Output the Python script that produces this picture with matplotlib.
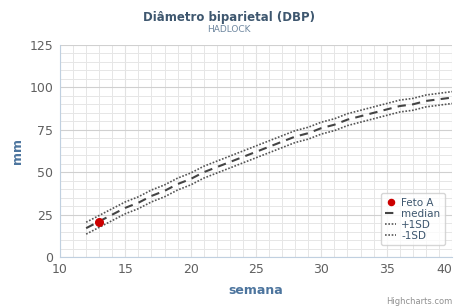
import numpy as np
import matplotlib.pyplot as plt
from matplotlib.ticker import MultipleLocator

weeks = [12, 13, 14, 15, 16, 17, 18, 19, 20, 21, 22, 23, 24, 25, 26,
         27, 28, 29, 30, 31, 32, 33, 34, 35, 36, 37, 38, 39, 40]
median = [17, 21, 25, 29, 32, 36, 39, 43, 46, 50, 53, 56, 59, 62, 65,
          68, 71, 73, 76, 78, 81, 83, 85, 87, 89, 90, 92, 93, 94]
plus_sd = [20.5, 24.5, 28.5, 32.5, 35.5, 39.5, 42.5, 46.5, 49.5, 53.5, 56.5, 59.5, 62.5, 65.5, 68.5,
           71.5, 74.5, 76.5, 79.5, 81.5, 84.5, 86.5, 88.5, 90.5, 92.5, 93.5, 95.5, 96.5, 97.5]
minus_sd = [13.5, 17.5, 21.5, 25.5, 28.5, 32.5, 35.5, 39.5, 42.5, 46.5, 49.5, 52.5, 55.5, 58.5, 61.5,
            64.5, 67.5, 69.5, 72.5, 74.5, 77.5, 79.5, 81.5, 83.5, 85.5, 86.5, 88.5, 89.5, 90.5]
feto_x = [13]
feto_y = [20.5]
xticks = [10, 15, 20, 25, 30, 35, 40]

fig = plt.figure(figsize=(4.58, 3.06), dpi=100)
ax = fig.add_axes([60 / 458, 1 - 257 / 306, 392 / 458, 212 / 306])

ax.set_xlim(10, 40)
ax.set_ylim(0, 125)
ax.set_xticks(xticks)
ax.xaxis.set_minor_locator(MultipleLocator(1))
ax.yaxis.set_major_locator(MultipleLocator(25))
ax.yaxis.set_minor_locator(MultipleLocator(5))
ax.grid(which="major", axis="y", color="#d0d0d0", lw=0.8)
ax.grid(which="major", axis="x", color="#e2e2e2", lw=0.8)
ax.grid(which="minor", color="#e6e6e6", lw=0.7)
ax.set_axisbelow(True)
for s in ["top", "right"]:
    ax.spines[s].set_visible(False)
ax.spines["left"].set_color("#c0d0e0")
ax.spines["bottom"].set_color("#c0d0e0")
ax.tick_params(which="both", length=0, labelsize=9, labelcolor="#606060")
ax.tick_params(axis="x", pad=4)
ax.tick_params(axis="y", pad=5)
# keep the last x label inside the figure
ax.get_xticklabels()[-1].set_ha("right")

ax.plot(weeks, plus_sd, color="#555555", lw=1.2, ls=(0, (1, 1)), label="+1SD")
ax.plot(weeks, minus_sd, color="#555555", lw=1.2, ls=(0, (1, 1)), label="-1SD")
ax.plot(weeks, median, color="#444444", lw=1.5, ls=(0, (4, 3)), label="median")
ax.plot(feto_x, feto_y, "o", color="#cc0000", ms=5.5, label="Feto A")

h, l = ax.get_legend_handles_labels()
order = [3, 2, 0, 1]
leg = ax.legend([h[i] for i in order], [l[i] for i in order], loc="lower right",
                fontsize=7.5, labelcolor="#3e576f", handlelength=1.0, handletextpad=0.5,
                borderpad=0.45, labelspacing=0.1, fancybox=True, markerscale=0.8,
                bbox_to_anchor=(0.995, 0.03))
leg.get_frame().set_edgecolor("#cccccc")

ax.set_xlabel("semana", fontsize=9, color="#4d759e", fontweight="bold", labelpad=6)
ax.set_ylabel("mm", fontsize=9, color="#4d759e", fontweight="bold", labelpad=4)

fig.text(0.5, 1 - 17 / 306, "Diâmetro biparietal (DBP)", ha="center", va="center",
         fontsize=8.5, color="#3e576f", fontweight="bold")
fig.text(0.5, 1 - 30 / 306, "HADLOCK", ha="center", va="center",
         fontsize=6.5, color="#6d869f")
fig.text(452 / 458, 1 - 301 / 306, "Highcharts.com", ha="right", va="center",
         fontsize=6, color="#909090")

fig.savefig("out.png", dpi=100)
